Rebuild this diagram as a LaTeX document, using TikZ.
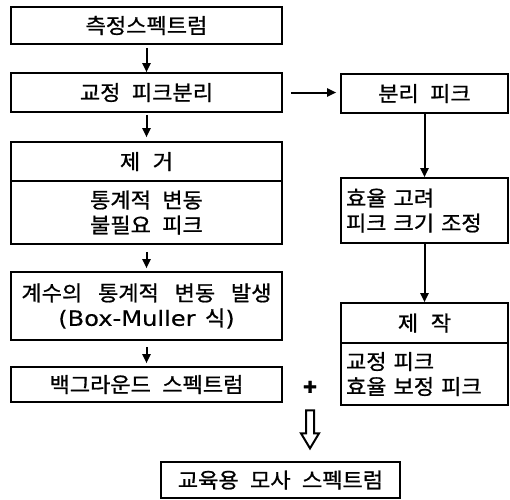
\documentclass[tikz,border=0pt]{standalone}
\usepackage{fontspec}
\setmainfont[WordSpace=2.3, FakeBold=0.9, FakeStretch=1.05]{Noto Sans CJK KR}
\newfontfamily\latinwide[FakeStretch=1.15, FakeBold=0.2]{DejaVu Sans}
\usetikzlibrary{arrows.meta}
\begin{document}
\begin{tikzpicture}[x=1pt,y=-1pt,
  box/.style={draw, line width=1.6pt, inner sep=0pt, align=center, font=\fontsize{21}{25}\selectfont},
  lbox/.style={box, minimum width=271pt},
  rbox/.style={box, minimum width=167pt},
  arr/.style={line width=2pt, -{Triangle[width=8pt,length=9pt]}},
  dblarrow/.style={line width=2pt, fill=white, line join=miter},
]
\useasboundingbox (0,0) rectangle (510,499);
% left column
\node[lbox, minimum height=37pt] (n1) at (146.5,25.5) {측정스펙트럼};
\node[lbox, minimum height=39pt] (n2) at (146.5,92.5) {교정 피크분리};
\node[lbox, minimum height=39pt] (n3h) at (146.5,161.5) {제\hspace{0.6em}거};
\node[lbox, minimum height=63pt] (n3b) at (146.5,212.5) {통계적 변동\\불필요 피크};
\node[lbox, minimum height=68pt] (n4) at (146.5,306) {계수의\hspace{0.75em}통계적\hspace{0.75em}변동\hspace{0.75em}발생\\{\latinwide (Box-Muller}\hspace{0.45em}식{\latinwide )}};
\node[lbox, minimum height=35pt] (n5) at (146.5,384.5) {백그라운드 스펙트럼};
% right column
\node[rbox, minimum height=39pt] (r1) at (424.5,93.5) {분리 피크};
\node[rbox, minimum height=65pt, text width=157pt, align=left] (r2) at (424.5,210.5) {효율 고려\\피크 크기 조정};
\node[rbox, minimum height=40pt] (r3h) at (424.5,323) {제\hspace{0.6em}작};
\node[rbox, minimum height=62pt, text width=157pt, align=left] (r3b) at (424.5,374) {교정 피크\\효율 보정 피크};
% bottom
\node[font=\fontsize{22}{22}\selectfont\bfseries, inner sep=0pt, minimum width=14pt, minimum height=14pt] (plus) at (310,388) {+};
\node[box, minimum width=239pt, minimum height=36pt] (final) at (280.5,480) {교육용 모사 스펙트럼};
% connectors
\draw[arr, shorten <=3pt] (n1) -- (n2);
\draw[arr, shorten <=2pt, shorten >=4pt] (n2) -- (n3h);
\draw[arr, shorten <=7pt, shorten >=3pt] (n3b) -- (n4);
\draw[arr, shorten <=6pt, shorten >=3pt] (n4) -- (n5);
\draw[arr, shorten <=8pt, shorten >=4pt] (n2.east) -- (r1.west |- n2.east);
\draw[arr] (r1) -- (r2);
\draw[arr] (r2) -- (r3h);
\draw[dblarrow] ([xshift=-4pt,yshift=-15pt]plus.south) -- ++(0,23) -- ++(-5,0) -- ++(9,15) -- ++(9,-15) -- ++(-5,0) -- ++(0,-23) -- cycle;
\end{tikzpicture}
\end{document}
